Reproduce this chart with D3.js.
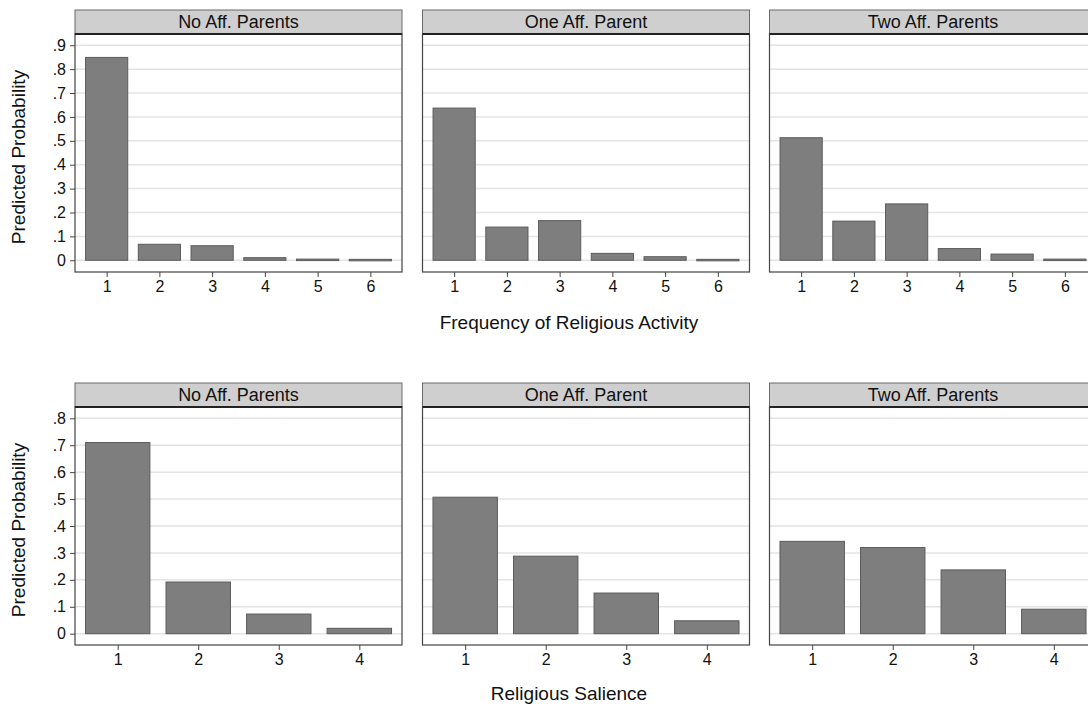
<!DOCTYPE html>
<html><head><meta charset="utf-8">
<script src="https://cdn.jsdelivr.net/npm/d3@7"></script>
<style>
body{margin:0;background:#fff;}
text{font-family:"Liberation Sans",Arial,Helvetica,sans-serif;}
</style></head>
<body><svg id="chart" width="1088" height="709"></svg>
<script>
// ---- data ----
const panelTitles = ["No Aff. Parents", "One Aff. Parent", "Two Aff. Parents"];
const activityCategories = [1, 2, 3, 4, 5, 6];
const activityNoAff  = [0.849, 0.067, 0.061, 0.011, 0.005, 0.004];
const activityOneAff = [0.637, 0.139, 0.166, 0.029, 0.015, 0.004];
const activityTwoAff = [0.513, 0.164, 0.236, 0.049, 0.026, 0.005];
const activityTicks  = [0, 0.1, 0.2, 0.3, 0.4, 0.5, 0.6, 0.7, 0.8, 0.9];
const salienceCategories = [1, 2, 3, 4];
const salienceNoAff  = [0.710, 0.192, 0.073, 0.020];
const salienceOneAff = [0.507, 0.288, 0.151, 0.048];
const salienceTwoAff = [0.343, 0.320, 0.237, 0.091];
const salienceTicks  = [0, 0.1, 0.2, 0.3, 0.4, 0.5, 0.6, 0.7, 0.8];
const yTitle = "Predicted Probability";
const xTitles = ["Frequency of Religious Activity", "Religious Salience"];

// ---- layout ----
const svg = d3.select("#chart");
const panelLefts = [75, 422.5, 769.5];
const panelW = 327;
const rows = [
  {cats: activityCategories, series: [activityNoAff, activityOneAff, activityTwoAff], ticks: activityTicks,
   stripTop: 10, plotTop: 34, plotBot: 272, yDom: [-0.049, 0.947], xDom: [0.4, 6.6], title: xTitles[0], titleY: 329},
  {cats: salienceCategories, series: [salienceNoAff, salienceOneAff, salienceTwoAff], ticks: salienceTicks,
   stripTop: 383, plotTop: 407, plotBot: 645, yDom: [-0.042, 0.842], xDom: [0.47, 4.53], title: xTitles[1], titleY: 700}
];
const fmt = v => v === 0 ? "0" : d3.format(".1f")(v).replace(/^0/, "");
const FONT = '"Liberation Sans",Arial,Helvetica,sans-serif';

rows.forEach(row => {
  const y = d3.scaleLinear().domain(row.yDom).range([row.plotBot, row.plotTop]);
  row.series.forEach((vals, pi) => {
    const left = panelLefts[pi];
    const x = d3.scaleLinear().domain(row.xDom).range([left, left + panelW]);
    const g = svg.append("g");
    // strip
    g.append("rect").attr("x", left).attr("y", row.stripTop).attr("width", panelW)
      .attr("height", row.plotTop - row.stripTop).attr("fill", "#cfcfcf").attr("stroke", "#6a6a6a").attr("stroke-width", 1);
    g.append("text").attr("x", left + panelW / 2).attr("y", row.stripTop + 18).attr("text-anchor", "middle")
      .attr("font-size", 18).attr("fill", "#111").text(panelTitles[pi]);
    // plot bg
    g.append("rect").attr("x", left).attr("y", row.plotTop).attr("width", panelW)
      .attr("height", row.plotBot - row.plotTop).attr("fill", "#fff");
    // gridlines
    g.selectAll("line.grid").data(row.ticks).join("line").attr("class", "grid")
      .attr("x1", left).attr("x2", left + panelW).attr("y1", d => y(d)).attr("y2", d => y(d))
      .attr("stroke", "#e4e4e4").attr("stroke-width", 1.5);
    // bars
    g.selectAll("rect.bar").data(row.cats.map((c, i) => ({c, v: vals[i]}))).join("rect").attr("class", "bar")
      .attr("x", d => x(d.c - 0.4)).attr("width", d => x(d.c + 0.4) - x(d.c - 0.4))
      .attr("y", d => y(d.v)).attr("height", d => Math.max(1.5, y(0) - y(d.v)))
      .attr("fill", "#7e7e7e").attr("stroke", "#5c5c5c").attr("stroke-width", 1);
    // frame
    g.append("rect").attr("x", left).attr("y", row.plotTop).attr("width", panelW)
      .attr("height", row.plotBot - row.plotTop).attr("fill", "none").attr("stroke", "#444").attr("stroke-width", 1.2);
    g.append("line").attr("x1", left).attr("x2", left + panelW).attr("y1", row.plotTop).attr("y2", row.plotTop)
      .attr("stroke", "#222").attr("stroke-width", 2);
    // x axis
    const xAxis = d3.axisBottom(x).tickValues(row.cats).tickSize(5).tickPadding(4).tickFormat(d3.format("d"));
    const xa = g.append("g").attr("transform", `translate(0,${row.plotBot})`).call(xAxis)
      .attr("font-size", 16).attr("font-family", FONT);
    xa.select(".domain").remove();
    xa.selectAll(".tick line").attr("stroke", "#444");
    xa.selectAll(".tick text").attr("fill", "#111");
    // y axis only on first panel
    if (pi === 0) {
      const yAxis = d3.axisLeft(y).tickValues(row.ticks).tickSize(5).tickPadding(4).tickFormat(fmt);
      const ya = g.append("g").attr("transform", `translate(${left},0)`).call(yAxis)
        .attr("font-size", 16).attr("font-family", FONT);
      ya.select(".domain").remove();
      ya.selectAll(".tick line").attr("stroke", "#444");
      ya.selectAll(".tick text").attr("fill", "#111");
      svg.append("text").attr("transform", `translate(25,${(row.plotTop + row.plotBot) / 2 + 4}) rotate(-90)`)
        .attr("text-anchor", "middle").attr("font-size", 19).attr("fill", "#111").text(yTitle);
    }
  });
  svg.append("text").attr("x", 569).attr("y", row.titleY).attr("text-anchor", "middle")
    .attr("font-size", 19).attr("fill", "#111").text(row.title);
});
</script></body></html>
